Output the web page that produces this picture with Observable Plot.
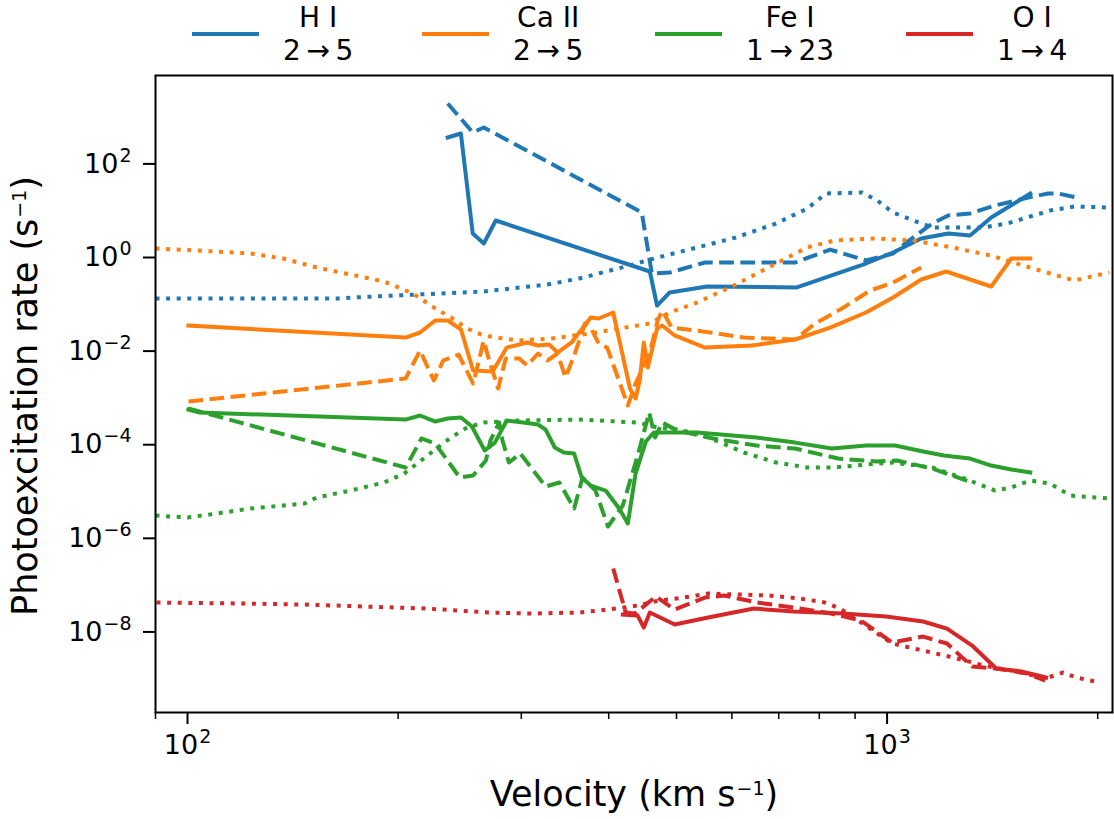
<!DOCTYPE html>
<html>
<head>
<meta charset="utf-8">
<script src="https://cdn.jsdelivr.net/npm/d3@7"></script>
<script src="https://cdn.jsdelivr.net/npm/@observablehq/plot@0.6"></script>
<style>
  html, body { margin: 0; padding: 0; background: white; }
  #wrap { position: relative; width: 1114px; height: 819px; font-family: "DejaVu Sans", sans-serif; }
  .item { position: absolute; top: 1px; display: flex; align-items: center; }
  .swatch { width: 67px; height: 4px; margin-right: 24px; }
  .lab { text-align: center; font-size: 28px; line-height: 33px; color: black; white-space: nowrap; }
</style>
</head>
<body>
<div id="wrap"><div id="chart"></div></div>
<script>
// ---- Data (velocity in km/s, photoexcitation rate in 1/s) ----
const hiSolidV = [235.5, 245.9, 255.7, 265.2, 275.8, 458, 469, 489, 553, 743, 933, 1020, 1119, 1223, 1314, 1409, 1602];
const hiSolidR = [366, 446, 3.26, 1.99, 6.18, 0.502, 0.0942, 0.179, 0.240, 0.229, 0.744, 1.28, 2.55, 3.26, 2.95, 7.16, 23.3];
const hiDashV = [235.5, 255.7, 265.2, 446, 461, 489, 549, 739, 829, 933, 1020, 1075, 1160, 1223, 1314, 1427, 1591, 1699, 1756, 1870];
const hiDashR = [1954, 469, 600, 9.16, 0.455, 0.478, 0.782, 0.782, 1.48, 0.863, 1.22, 2.31, 5.33, 7.89, 8.71, 12.9, 19.1, 23.3, 23.3, 19.1];
const hiDotV = [90, 165.5, 172.8, 213, 265, 327, 363, 423, 470, 535, 608, 694, 769, 818, 921, 968, 1020, 1090, 1160, 1372, 1485, 1711, 1851, 2078];
const hiDotR = [0.133, 0.133, 0.140, 0.162, 0.188, 0.265, 0.356, 0.642, 1.0, 1.64, 2.68, 5.33, 11.1, 23.3, 24.5, 16.5, 9.16, 6.18, 4.38, 4.38, 5.33, 10.1, 12.3, 11.7];

const caSolidV = [100.3, 205, 215, 226, 235.5, 246, 256, 273, 286, 306, 317, 329, 338, 354, 377, 387, 406, 429, 437, 443, 449, 455, 469, 477, 497, 549, 641, 739, 829, 933, 1020, 1119, 1215, 1409, 1505, 1602];
const caSolidR = [0.0352, 0.0195, 0.0250, 0.0451, 0.0451, 0.029, 0.00385, 0.00366, 0.0119, 0.0153, 0.0132, 0.0138, 0.00933, 0.0153, 0.0522, 0.0497, 0.0668, 0.00159, 0.00097, 0.00236, 0.0153, 0.00447, 0.0304, 0.0352, 0.0216, 0.0119, 0.0132, 0.0177, 0.0319, 0.0668, 0.140, 0.339, 0.502, 0.240, 0.952, 0.952];
const caDashV = [100.3, 205, 215, 225, 232, 244, 256, 261, 265, 270, 278, 285, 298, 306, 317, 327, 338, 347, 357, 370, 377, 387, 398, 426, 437, 458, 470, 477, 492, 535, 624, 739, 789, 862, 946, 1020, 1119];
const caDashR = [0.000838, 0.0026, 0.0103, 0.00236, 0.0063, 0.00846, 0.00203, 0.0063, 0.0168, 0.0063, 0.00159, 0.00695, 0.00695, 0.00492, 0.00889, 0.0063, 0.00889, 0.00273, 0.00805, 0.0389, 0.0319, 0.0145, 0.0119, 0.000688, 0.00203, 0.00933, 0.0451, 0.0737, 0.0319, 0.0275, 0.0195, 0.0177, 0.0389, 0.0813, 0.197, 0.292, 0.611];
const caDotV = [90, 110, 123, 137, 153, 171, 191, 210, 225, 238, 251, 265, 297, 331, 377, 414, 458, 489, 535, 608, 694, 769, 840, 958, 1090, 1239, 1409, 1565, 1711, 1851, 2078];
const caDotR = [1.56, 1.34, 1.22, 0.952, 0.611, 0.433, 0.307, 0.170, 0.0855, 0.0522, 0.0304, 0.0216, 0.0168, 0.0186, 0.0238, 0.0304, 0.0389, 0.0668, 0.109, 0.265, 0.744, 1.64, 2.31, 2.55, 2.31, 1.64, 1.10, 0.675, 0.455, 0.323, 0.478];

const feSolidV = [100.3, 104, 205, 215, 226, 235.5, 246, 255, 266, 275, 286, 302, 317, 325, 335, 345, 357, 366, 377, 396, 414, 426, 437, 452, 464, 486, 535, 650, 739, 834, 933, 1027, 1126, 1206, 1314, 1409, 1505, 1602];
const feSolidR = [0.000565, 0.000488, 0.000345, 0.000421, 0.000313, 0.000363, 0.000381, 0.000245, 7.52e-5, 0.000111, 0.000329, 0.000298, 0.00027, 0.000211, 8.71e-5, 6.81e-5, 6.49e-5, 1.99e-5, 1.34e-5, 1.05e-5, 4.33e-6, 2.07e-6, 2.42e-5, 0.000117, 0.000182, 0.000182, 0.000182, 0.000143, 0.000111, 8.3e-5, 9.62e-5, 9.62e-5, 7.16e-5, 5.88e-5, 5.07e-5, 3.59e-5, 2.95e-5, 2.55e-5];
const feDashV = [100.3, 205, 216, 226, 245, 256, 267, 271, 279, 282, 288, 299, 325, 340, 357, 367, 383, 399, 419, 440, 457, 466, 477, 501, 564, 650, 739, 851, 968, 1033, 1160, 1323];
const feDashR = [0.000594, 3.26e-5, 0.000136, 0.000106, 1.99e-5, 2.2e-5, 4.59e-5, 0.000123, 0.000298, 0.000123, 4.17e-5, 6.49e-5, 1.28e-5, 1.56e-5, 4.33e-6, 1.99e-5, 1.05e-5, 1.79e-6, 5.02e-6, 5.88e-5, 0.000488, 0.000143, 0.000298, 0.000201, 0.000136, 9.62e-5, 8.3e-5, 5.07e-5, 4.38e-5, 4.59e-5, 3.1e-5, 1.56e-5];
const feDotV = [90, 100, 110, 123, 137, 147, 153, 171, 191, 204, 213, 225, 238, 251, 265, 297, 363, 440, 470, 501, 535, 579, 624, 694, 769, 840, 933, 1020, 1160, 1289, 1427, 1505, 1602, 1711, 1827, 2078];
const feDotR = [3.07e-6, 2.78e-6, 3.39e-6, 4.33e-6, 5.02e-6, 5.54e-6, 7.45e-6, 1.05e-5, 1.56e-5, 2.42e-5, 3.97e-5, 7.52e-5, 0.000143, 0.000233, 0.000298, 0.000329, 0.000345, 0.000298, 0.000233, 0.000211, 0.000173, 0.000111, 6.81e-5, 4.17e-5, 3.26e-5, 3.26e-5, 3.77e-5, 4.17e-5, 3.26e-5, 1.9e-5, 1.05e-5, 1.22e-5, 1.72e-5, 1.48e-5, 8.22e-6, 7.08e-6];

const oiSolidV = [419, 440, 449, 458, 497, 555, 645, 736, 865, 997, 1126, 1218, 1323, 1432, 1555, 1688];
const oiSolidR = [2.35e-8, 2.24e-8, 1.24e-8, 2.6e-8, 1.44e-8, 2.03e-8, 3.16e-8, 2.73e-8, 2.47e-8, 2.13e-8, 1.67e-8, 1.18e-8, 5.12e-9, 1.65e-9, 1.43e-9, 1.06e-9];
const oiDashV = [406, 423, 436, 467, 497, 549, 585, 652, 736, 832, 918, 1017, 1126, 1218, 1323, 1432, 1586, 1683];
const oiDashR = [2.26e-7, 2.6e-8, 2.47e-8, 5.7e-8, 3.01e-8, 5.43e-8, 6.0e-8, 4.25e-8, 3.32e-8, 2.47e-8, 1.75e-8, 5.94e-9, 7.97e-9, 5.65e-9, 1.82e-9, 1.65e-9, 1.29e-9, 9.16e-10];
const oiDotV = [90.3, 120, 146.6, 179, 220, 269, 309, 364, 410, 440, 472, 512, 555, 614, 678, 751, 815, 857, 918, 1017, 1126, 1243, 1377, 1555, 1683, 1786, 1864, 2017];
const oiDotR = [4.25e-8, 4.05e-8, 3.85e-8, 3.49e-8, 3.16e-8, 2.6e-8, 2.47e-8, 2.6e-8, 3.16e-8, 3.67e-8, 4.69e-8, 5.43e-8, 6.62e-8, 6.3e-8, 6.0e-8, 5.17e-8, 4.25e-8, 3.16e-8, 1.59e-8, 5.65e-9, 4.01e-9, 2.84e-9, 1.91e-9, 1.36e-9, 1.01e-9, 1.36e-9, 1.06e-9, 8.3e-10];

const ions = ["H I", "Ca II", "Fe I", "O I"];
const transitions = ["2\u2009\u2192\u20095", "2\u2009\u2192\u20095", "1\u2009\u2192\u200923", "1\u2009\u2192\u20094"];
const colors = ["#1f77b4", "#ff7f0e", "#2ca02c", "#d62728"];
const xMajorTicks = [100, 1000];
const xMinorTicks = [90, 200, 300, 400, 500, 600, 700, 800, 900, 2000];
const yTicks = [1e2, 1e0, 1e-2, 1e-4, 1e-6, 1e-8];
const xLabel = "Velocity (km s^{\u22121})";
const yLabel = "Photoexcitation rate (s^{\u22121})";

// ---- Build ----
const SOLID = null, DASH = "14.8,6.4", DOT = "4,6.6";
const seriesList = [
  [hiSolidV, hiSolidR, 0, SOLID], [hiDashV, hiDashR, 0, DASH], [hiDotV, hiDotR, 0, DOT],
  [caSolidV, caSolidR, 1, SOLID], [caDashV, caDashR, 1, DASH], [caDotV, caDotR, 1, DOT],
  [feSolidV, feSolidR, 2, SOLID], [feDashV, feDashR, 2, DASH], [feDotV, feDotR, 2, DOT],
  [oiSolidV, oiSolidR, 3, SOLID], [oiDashV, oiDashR, 3, DASH], [oiDotV, oiDotR, 3, DOT]
];
const lineMarks = seriesList.map(([vs, rs, ci, dash]) =>
  Plot.line(vs.map((v, i) => ({v, r: rs[i]})), {
    x: "v", y: "r", stroke: colors[ci], strokeWidth: 4,
    strokeDasharray: dash || undefined,
    strokeLinecap: dash ? "butt" : "square",
    strokeLinejoin: "round", clip: true
  })
);

const fmt = d => "10^{" + String(Math.round(Math.log10(d))).replace("-", "\u2212") + "}";

const chart = Plot.plot({
  width: 1114, height: 819,
  marginLeft: 155, marginRight: 2, marginTop: 75, marginBottom: 107,
  style: {fontFamily: "DejaVu Sans", fontSize: "27px", color: "black", background: "white"},
  x: {type: "log", domain: [90, 2100], label: null},
  y: {type: "log", domain: [1.9e-10, 7740], label: null},
  marks: [
    ...lineMarks,
    Plot.frame({stroke: "black", strokeWidth: 2}),
    Plot.axisX(xMajorTicks, {tickSize: 12, tickPadding: 10, tickFormat: fmt, fontSize: 27, strokeWidth: 2, label: null}),
    Plot.axisX(xMinorTicks, {tickSize: 7, tickFormat: () => "", strokeWidth: 1.5, label: null}),
    Plot.axisY(yTicks, {tickSize: 12, tickPadding: 12, tickFormat: fmt, fontSize: 27, strokeWidth: 2, label: null}),
    Plot.text([xLabel], {frameAnchor: "bottom", dy: 93, fontSize: 35}),
    Plot.text([yLabel], {frameAnchor: "left", textAnchor: "middle", dx: -130, dy: 2, rotate: -90, fontSize: 35})
  ]
});

// render "^{...}" parts as raised, smaller tspans (text stays real text)
const ns = "http://www.w3.org/2000/svg";
chart.querySelectorAll("text").forEach(t => {
  const s = t.textContent;
  if (!s.includes("^{")) return;
  const fs = parseFloat(t.getAttribute("font-size") || getComputedStyle(t).fontSize) || 27;
  const supFs = Math.round(fs * 0.7);
  const raise = Math.round(fs * 0.42);
  const parts = s.split(/(\^\{[^}]*\})/).filter(p => p.length);
  t.textContent = "";
  let raised = false;
  parts.forEach(p => {
    const ts = document.createElementNS(ns, "tspan");
    if (p.startsWith("^{")) {
      ts.textContent = p.slice(2, -1);
      ts.setAttribute("font-size", supFs);
      ts.setAttribute("dy", -raise);
      ts.setAttribute("dx", 1);
      raised = true;
    } else {
      ts.textContent = p;
      if (raised) { ts.setAttribute("dy", raise); raised = false; }
    }
    t.appendChild(ts);
  });
});
document.getElementById("chart").appendChild(chart);

// ---- Legend ----
const legendLeft = [192, 422, 655, 906];
const wrap = document.getElementById("wrap");
ions.forEach((ion, i) => {
  const item = document.createElement("div");
  item.className = "item";
  item.style.left = legendLeft[i] + "px";
  const sw = document.createElement("div");
  sw.className = "swatch";
  sw.style.background = colors[i];
  const lab = document.createElement("div");
  lab.className = "lab";
  lab.innerHTML = ion + "<br>" + transitions[i];
  item.appendChild(sw);
  item.appendChild(lab);
  wrap.appendChild(item);
});
</script>
</body>
</html>
